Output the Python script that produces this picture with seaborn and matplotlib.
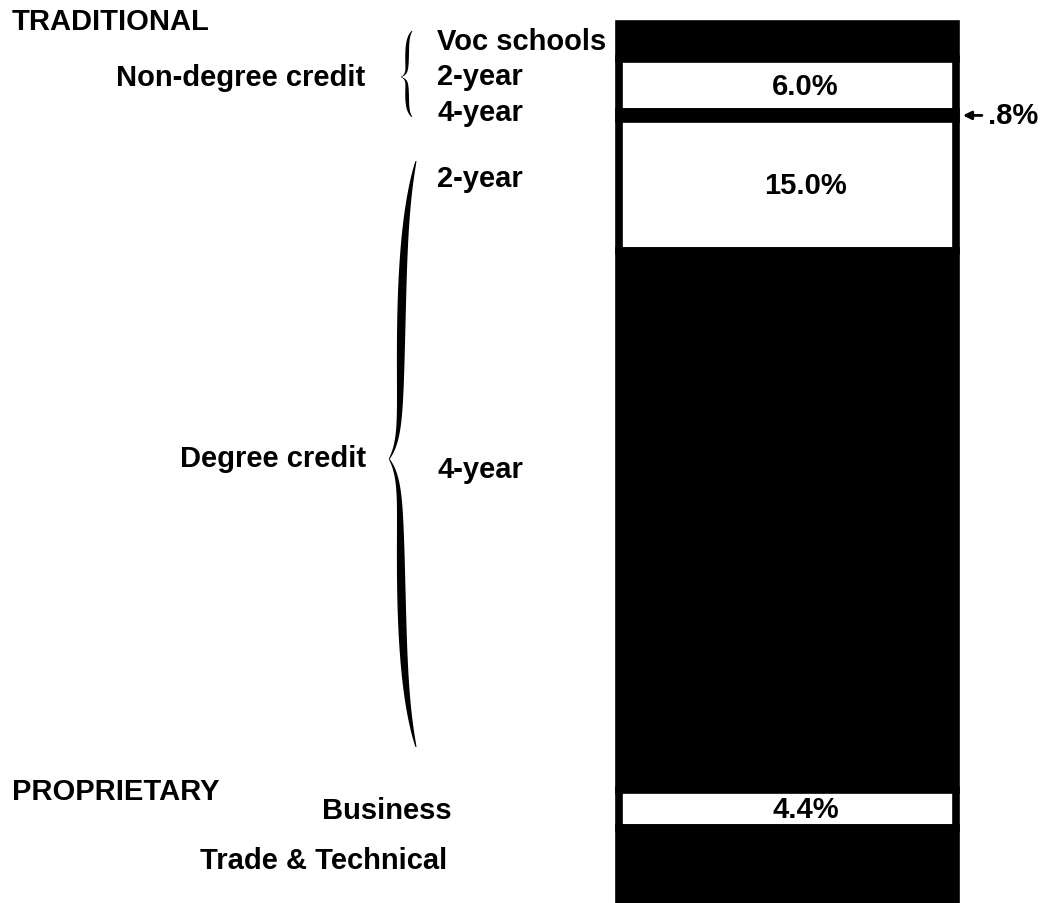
import numpy as np
import matplotlib.pyplot as plt
import seaborn as sns

# share of enrollment, read top of the bar to the bottom
segments = ['Voc schools', 'Non-degree 2-year', 'Non-degree 4-year', 'Degree 2-year',
            'Degree 4-year', 'Business', 'Trade & Technical']
shares = [4.0, 6.0, 0.8, 15.0, 61.3, 4.4, 8.5]
fills = ['black', 'white', 'black', 'white', 'black', 'white', 'black']
pct_labels = ['', '6.0%', '', '15.0%', '', '4.4%', '']
side_label = '.8%'   # the thin non-degree 4-year band

# text on the left: (text, x px, baseline px)
left_texts = [
    ('TRADITIONAL', 12, 30),
    ('Non-degree credit', 116, 86),
    ('Voc schools', 437, 50),
    ('2-year', 437, 85),
    ('4-year', 437, 121),
    ('2-year', 437, 187),
    ('Degree credit', 180, 467),
    ('4-year', 437, 478),
    ('PROPRIETARY', 12, 800),
    ('Business', 322, 819),
    ('Trade & Technical', 200, 869),
]

sns.set_style('white')
plt.rcParams['font.family'] = ['Liberation Sans', 'DejaVu Sans']
plt.rcParams['text.color'] = 'black'
fs = 21

fig = plt.figure(figsize=(10.42, 9.04), dpi=100)
ax = fig.add_axes([0, 0, 1, 1])

starts = np.concatenate([[0], np.cumsum(shares)[:-1]])
for share, start, fill in zip(shares, starts, fills):
    sns.barplot(x=['bar'], y=[share], bottom=start, color=fill, saturation=1,
                width=0.8, edgecolor='black', linewidth=5.5, errorbar=None, ax=ax)

for lab, share, start in zip(pct_labels, shares, starts):
    if lab:
        ax.text(0.043, start + share / 2, lab, ha='center', va='center',
                fontsize=fs, fontweight='bold', color='black')

i = segments.index('Non-degree 4-year')
ax.annotate(side_label, xy=(0.4 + 7 / 421.25, starts[i] + shares[i] / 2),
            xytext=(25, 0), textcoords='offset pixels', ha='left', va='center',
            fontsize=fs, fontweight='bold', color='black',
            arrowprops=dict(arrowstyle='-|>', color='black', lw=2, mutation_scale=12,
                            shrinkA=2, shrinkB=0))

ax.set_xlim(-1.8694, 0.6042)
ax.set_ylim(100, -2.844)
ax.axis('off')

# overlay in pixel units for the labels and braces
ov = fig.add_axes([0, 0, 1, 1], zorder=3)
ov.set_xlim(0, 1042)
ov.set_ylim(904, 0)
ov.axis('off')

for txt, x, y in left_texts:
    ov.text(x, y, txt, ha='left', va='baseline', fontsize=fs, fontweight='bold',
            color='black')


def brace(x_end, x_body, x_tip, y_top, y_mid, y_bot, wmax, a=0.14):
    xs_l, xs_r, ys = [], [], []
    for y0, y1, flip in [(y_top, y_mid, False), (y_mid, y_bot, True)]:
        s = np.linspace(0, 1, 200)
        u = 1 - s if flip else s
        x = x_body + (x_end - x_body) * np.exp(-u / a) - (x_body - x_tip) * np.exp(-(1 - u) / 0.06)
        w = wmax * np.sin(np.pi * u) ** 0.7 + 0.9
        y = y0 + (y1 - y0) * s
        xs_l.extend(x - w / 2)
        xs_r.extend(x + w / 2)
        ys.extend(y)
    px = np.concatenate([xs_l, xs_r[::-1]])
    py = np.concatenate([ys, ys[::-1]])
    ov.fill(px, py, color='black', lw=0)


brace(412, 407, 401, 32, 78, 118, 2.8)
brace(416, 400, 389, 162, 460, 748, 7.5, a=0.22)

fig.savefig('out.png', dpi=100)
